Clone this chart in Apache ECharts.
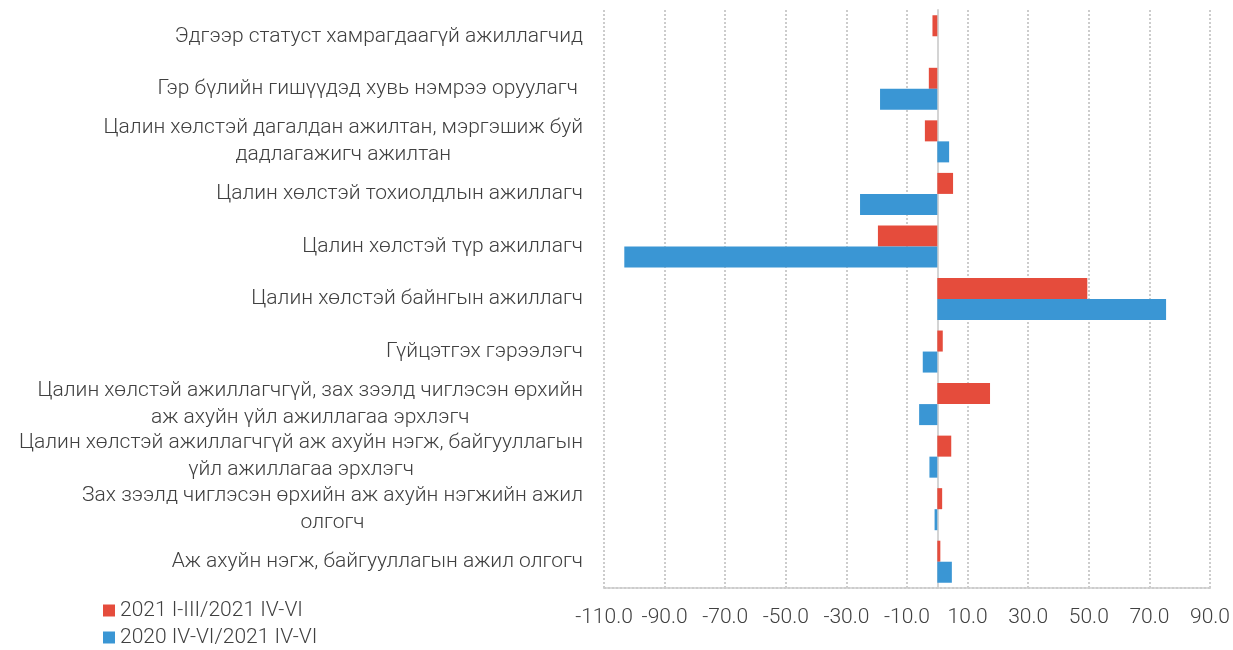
<!DOCTYPE html>
<html>
<head>
<meta charset="utf-8">
<script src="https://cdn.jsdelivr.net/npm/echarts@6/dist/echarts.min.js"></script>
<style>
html,body{margin:0;padding:0;background:#fff;}
#chart{width:1233px;height:650px;}
</style>
</head>
<body>
<div id="chart"></div>
<script>
var categories = [
    "Эдгээр статуст хамрагдаагүй ажиллагчид",
    "Гэр бүлийн гишүүдэд хувь нэмрээ оруулагч ",
    "Цалин хөлстэй дагалдан ажилтан, мэргэшиж буй\nдадлагажигч ажилтан",
    "Цалин хөлстэй тохиолдлын ажиллагч",
    "Цалин хөлстэй түр ажиллагч",
    "Цалин хөлстэй байнгын ажиллагч",
    "Гүйцэтгэх гэрээлэгч",
    "Цалин хөлстэй ажиллагчгүй, зах зээлд чиглэсэн өрхийн\nаж ахуйн үйл ажиллагаа эрхлэгч",
    "Цалин хөлстэй ажиллагчгүй аж ахуйн нэгж, байгууллагын\nүйл ажиллагаа эрхлэгч",
    "Зах зээлд чиглэсэн өрхийн аж ахуйн нэгжийн ажил\nолгогч",
    "Аж ахуйн нэгж, байгууллагын ажил олгогч"
];
var seriesNames = ["2021 I-III/2021 IV-VI", "2020 IV-VI/2021 IV-VI"];
var q1Values = [-1.6, -2.8, -4.1, 5.2, -19.6, 49.5, 1.8, 17.4, 4.6, 1.6, 1.0];
var yoyValues = [0, -18.9, 3.9, -25.5, -103.3, 75.5, -4.8, -6.0, -2.6, -0.9, 4.8];
var xTicks = [-110, -90, -70, -50, -30, -10, 10, 30, 50, 70, 90];

var font = "Roboto";
var txt = "#404040";
var chart = echarts.init(document.getElementById("chart"));
chart.setOption({
    animation: false,
    textStyle: { fontFamily: font },
    legend: {
        orient: "vertical",
        left: 103,
        top: 600,
        padding: 0,
        itemWidth: 12,
        itemHeight: 12,
        itemGap: 6,
        icon: "rect",
        textStyle: { fontSize: 21, color: txt, fontWeight: 300, fontFamily: font },
        data: seriesNames
    },
    grid: {
        left: 604,
        right: 20,
        top: 10,
        bottom: 62
    },
    xAxis: {
        type: "value",
        min: -110,
        max: 90,
        axisLine: { show: true, lineStyle: { color: "#cccccc", type: "dotted", width: 2 } },
        axisTick: { show: false, customValues: xTicks },
        axisLabel: {
            customValues: xTicks,
            fontSize: 21,
            color: txt,
            fontWeight: 300,
            margin: 19,
            formatter: function (v) { return v.toFixed(1); }
        },
        splitLine: { show: true, lineStyle: { color: "#cccccc", type: "dotted", width: 2 } }
    },
    yAxis: {
        type: "category",
        inverse: true,
        data: categories,
        axisLine: { show: true, onZero: true, lineStyle: { color: "#d4d4d4", width: 2 } },
        axisTick: { show: false },
        axisLabel: {
            margin: 21,
            formatter: function (v) {
                return v.split("\n").map(function (s) { return "{c|" + s + "}"; }).join("\n");
            },
            rich: {
                c: {
                    align: "center",
                    fontSize: 21,
                    fontWeight: 300,
                    fontFamily: font,
                    color: txt,
                    lineHeight: 27
                }
            }
        }
    },
    series: [
        {
            name: seriesNames[0],
            type: "bar",
            data: q1Values,
            barGap: "0%",
            barCategoryGap: "20%",
            itemStyle: { color: "#e54c3c" }
        },
        {
            name: seriesNames[1],
            type: "bar",
            data: yoyValues,
            barGap: "0%",
            barCategoryGap: "20%",
            itemStyle: { color: "#3a96d4" }
        }
    ]
});
</script>
</body>
</html>
